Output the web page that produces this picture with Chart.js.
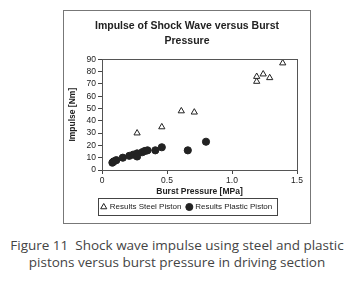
<!DOCTYPE html>
<html>
<head>
<meta charset="utf-8">
<script src="https://cdn.jsdelivr.net/npm/chart.js@4/dist/chart.umd.min.js"></script>
<style>
  body { margin: 0; background: #fff; width: 354px; height: 283px; position: relative; overflow: hidden; }
  #box { position: absolute; left: 63px; top: 10px; width: 246px; height: 212px; border: 1px solid #777; }
  #chart { display: block; }
  #caption { position: absolute; left: 0; top: 237px; width: 354px; text-align: center;
             font-family: 'Open Sans', sans-serif; font-size: 13.5px; line-height: 17px; color: #444; }
</style>
</head>
<body>
<div id="box"><canvas id="chart" width="246" height="212"></canvas></div>
<div id="caption">Figure 11&nbsp; Shock wave impulse using steel and plastic<br>pistons versus burst pressure in driving section</div>
<script>
// 鋼活塞 (三角形)
const steelPressure = [0.27, 0.46, 0.61, 0.71, 1.19, 1.19, 1.24, 1.29, 1.39];
const steelImpulse  = [30, 35, 48, 47, 72, 76, 78, 75, 87];
// 塑膠活塞 (圓點)
const plasticPressure = [0.08, 0.09, 0.11, 0.16, 0.21, 0.24, 0.27, 0.27, 0.31, 0.33, 0.35, 0.41, 0.46, 0.66, 0.80];
const plasticImpulse  = [6, 7, 8, 10, 11.5, 12.5, 13.5, 11, 14.5, 15.5, 16, 16, 18.5, 16, 23];
const xTicks = [0, 0.5, 1, 1.5];

const font = "'Liberation Sans', Arial, sans-serif";

function toPoints(xs, ys) {
    return xs.map((x, i) => ({ x: x, y: ys[i] }));
}

// 畫出圖區外框和圖例外框
const framePlugin = {
    id: 'frames',
    afterDraw(chart) {
        const ctx = chart.ctx;
        const a = chart.chartArea;
        ctx.save();
        ctx.strokeStyle = '#555';
        ctx.lineWidth = 1;
        ctx.strokeRect(Math.round(a.left) + 0.5, Math.round(a.top) + 0.5,
                       Math.round(a.right - a.left), Math.round(a.bottom - a.top));
        const boxes = chart.legend.legendHitBoxes;
        if (boxes && boxes.length) {
            const l = Math.min(...boxes.map(b => b.left)) - 4;
            const r = Math.max(...boxes.map(b => b.left + b.width)) + 4;
            const t = Math.min(...boxes.map(b => b.top)) - 5;
            const btm = Math.max(...boxes.map(b => b.top + b.height)) + 4;
            ctx.strokeStyle = '#444';
            ctx.strokeRect(Math.round(l) + 0.5, Math.round(t) + 0.5, Math.round(r - l), Math.round(btm - t));
        }
        ctx.restore();
    }
};

new Chart(document.getElementById('chart'), {
    type: 'scatter',
    data: {
        datasets: [
            {
                label: 'Results Steel Piston',
                data: toPoints(steelPressure, steelImpulse),
                pointStyle: 'triangle',
                pointRadius: 3.6,
                backgroundColor: '#fff',
                borderColor: '#222',
                borderWidth: 1
            },
            {
                label: 'Results Plastic Piston',
                data: toPoints(plasticPressure, plasticImpulse),
                pointStyle: 'circle',
                pointRadius: 3.6,
                backgroundColor: '#222',
                borderColor: '#222',
                borderWidth: 1
            }
        ]
    },
    options: {
        responsive: false,
        animation: false,
        layout: { padding: { left: 13, right: 13, top: 0, bottom: 2 } },
        plugins: {
            title: {
                display: true,
                text: ['Impulse of Shock Wave versus Burst', 'Pressure'],
                color: '#222',
                font: { family: font, size: 10.5, weight: 'bold', lineHeight: 1.4 },
                padding: { top: 8, bottom: 11 }
            },
            legend: {
                position: 'bottom',
                labels: {
                    color: '#222',
                    font: { family: font, size: 8 },
                    usePointStyle: true,
                    boxWidth: 4,
                    boxHeight: 5,
                    padding: 6
                }
            },
            tooltip: { enabled: false }
        },
        scales: {
            x: {
                type: 'linear',
                min: 0,
                max: 1.5,
                afterBuildTicks(axis) { axis.ticks = xTicks.map(v => ({ value: v })); },
                ticks: { color: '#222', font: { family: font, size: 8.5 }, padding: 2, maxRotation: 0 },
                grid: { drawOnChartArea: false, tickLength: 4, color: '#444' },
                border: { color: '#444' },
                title: {
                    display: true,
                    text: 'Burst Pressure [MPa]',
                    color: '#222',
                    font: { family: font, size: 8.5, weight: 'bold' },
                    padding: { top: -5, bottom: 0 }
                },
                afterFit(axis) { axis.height = 27; }
            },
            y: {
                min: 0,
                max: 90,
                ticks: { stepSize: 10, autoSkip: false, color: '#222', font: { family: font, size: 8.5 }, padding: 2 },
                grid: { drawOnChartArea: false, tickLength: 4, color: '#444' },
                border: { color: '#444' },
                title: {
                    display: true,
                    text: 'Impulse [Nm]',
                    color: '#222',
                    font: { family: font, size: 8.5, weight: 'bold' },
                    padding: { top: -9, bottom: 0 }
                },
                afterFit(axis) { axis.width = 25; }
            }
        }
    },
    plugins: [framePlugin]
});
</script>
</body>
</html>
